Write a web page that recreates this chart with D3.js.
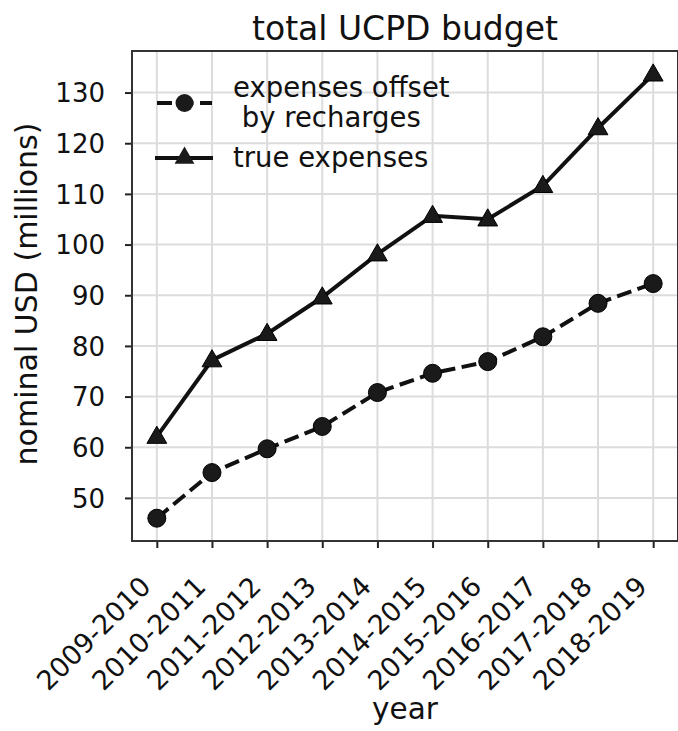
<!DOCTYPE html>
<html><head><meta charset="utf-8">
<script src="https://cdn.jsdelivr.net/npm/d3@7"></script>
<style>html,body{margin:0;padding:0;background:#fff;} svg{display:block;font-family:"DejaVu Sans",sans-serif;}</style>
</head><body>
<svg id="c" width="678" height="731"></svg>
<script>
const years = ["2009-2010","2010-2011","2011-2012","2012-2013","2013-2014","2014-2015","2015-2016","2016-2017","2017-2018","2018-2019"];
const offsetExpenses = [46.0, 55.0, 59.7, 64.1, 70.8, 74.6, 76.9, 81.8, 88.4, 92.3];
const trueExpenses = [62.1, 77.2, 82.4, 89.6, 98.1, 105.7, 105.0, 111.6, 123.0, 133.6];
const yTicks = [50, 60, 70, 80, 90, 100, 110, 120, 130];
const seriesNames = ["expenses offset\n by recharges", "true expenses"];
const titleText = "total UCPD budget";
const xLabel = "year", yLabel = "nominal USD (millions)";

const svg = d3.select("#c");
const L = 132, R = 678, T = 51, B = 541;
const x = d3.scaleLinear().domain([-0.45, years.length - 1 + 0.45]).range([L, R]);
const y = d3.scaleLinear().domain([41.5, 138.2]).range([B, T]);

// grid
const g = svg.append("g");
g.selectAll(".vg").data(years).join("line")
  .attr("x1", (d,i)=>x(i)).attr("x2", (d,i)=>x(i)).attr("y1", T).attr("y2", B)
  .attr("stroke", "#dcdcdc").attr("stroke-width", 2);
g.selectAll(".hg").data(yTicks).join("line")
  .attr("x1", L).attr("x2", R).attr("y1", d=>y(d)).attr("y2", d=>y(d))
  .attr("stroke", "#dcdcdc").attr("stroke-width", 2);

// axes
const xAxis = d3.axisBottom(x).tickValues(d3.range(years.length)).tickFormat(i=>years[i]).tickSize(7).tickPadding(8);
const yAxis = d3.axisLeft(y).tickValues(yTicks).tickSize(7).tickPadding(20);
const gx = svg.append("g").attr("transform", `translate(0,${B})`).call(xAxis);
const gy = svg.append("g").attr("transform", `translate(${L},0)`).call(yAxis);
[gx, gy].forEach(a=>{
  a.select(".domain").remove();
  a.selectAll(".tick line").attr("stroke", "#222").attr("stroke-width", 2);
  a.selectAll("text").attr("fill", "#111").style("font-size", "26px").style("font-family", "DejaVu Sans");
});
gx.selectAll("text").style("font-size", "27px");
gy.selectAll("text").attr("dy", "0.35em");
gx.selectAll("text")
  .attr("text-anchor", "end")
  .attr("y", 0).attr("dy", 0)
  .attr("transform", "translate(-5,47) rotate(-45)");

// frame
svg.append("rect").attr("x", L).attr("y", T).attr("width", R - L).attr("height", B - T)
  .attr("fill", "none").attr("stroke", "#333").attr("stroke-width", 2);

// lines
const line = d3.line().x((d,i)=>x(i)).y(d=>y(d));
svg.append("path").datum(offsetExpenses).attr("d", line).attr("fill", "none")
  .attr("stroke", "#111").attr("stroke-width", 4).attr("stroke-dasharray", "15,6.5");
svg.append("path").datum(trueExpenses).attr("d", line).attr("fill", "none")
  .attr("stroke", "#111").attr("stroke-width", 4);

const tri = d3.symbol().type(d3.symbolTriangle).size(170);
svg.selectAll(".c").data(offsetExpenses).join("circle")
  .attr("cx", (d,i)=>x(i)).attr("cy", d=>y(d)).attr("r", 9)
  .attr("fill", "#1a1a1a").attr("stroke", "#000").attr("stroke-width", 1);
svg.selectAll(".t").data(trueExpenses).join("path")
  .attr("d", tri).attr("transform", (d,i)=>`translate(${x(i)},${y(d)+1})`)
  .attr("fill", "#1a1a1a").attr("stroke", "#000").attr("stroke-width", 1);

// legend
const lg = svg.append("g");
const h1y = 103, h2y = 158, hx0 = 157, hx1 = 212;
lg.append("line").attr("x1", hx0).attr("x2", hx1).attr("y1", h1y).attr("y2", h1y)
  .attr("stroke", "#111").attr("stroke-width", 4).attr("stroke-dasharray", "15,6.5");
lg.append("circle").attr("cx", (hx0+hx1)/2).attr("cy", h1y).attr("r", 9).attr("fill", "#1a1a1a");
lg.append("line").attr("x1", hx0 - 2).attr("x2", hx1 + 1).attr("y1", h2y).attr("y2", h2y)
  .attr("stroke", "#111").attr("stroke-width", 4);
lg.append("path").attr("d", tri).attr("transform", `translate(${(hx0+hx1)/2},${h2y})`).attr("fill", "#1a1a1a");
const lines1 = seriesNames[0].split("\n");
const t1 = lg.append("text").attr("x", 233).attr("y", 97).style("font-size", "27.5px").attr("fill", "#111")
  .attr("xml:space", "preserve").style("white-space", "pre");
lines1.forEach((s, k)=> t1.append("tspan").attr("x", 233).attr("dy", k ? 29.5 : 0).text(s));
lg.append("text").attr("x", 233).attr("y", 167).style("font-size", "27.5px").attr("fill", "#111").text(seriesNames[1]);

// title and labels
svg.append("text").attr("x", (L + R)/2).attr("y", 40).attr("text-anchor", "middle")
  .style("font-size", "33px").attr("fill", "#111").text(titleText);
svg.append("text").attr("x", (L + R)/2).attr("y", 719).attr("text-anchor", "middle")
  .style("font-size", "29.5px").attr("fill", "#111").text(xLabel);
svg.append("text").attr("transform", `translate(37,${(T+B)/2 - 2}) rotate(-90)`).attr("text-anchor", "middle")
  .style("font-size", "30px").attr("fill", "#111").text(yLabel);
</script>
</body></html>
